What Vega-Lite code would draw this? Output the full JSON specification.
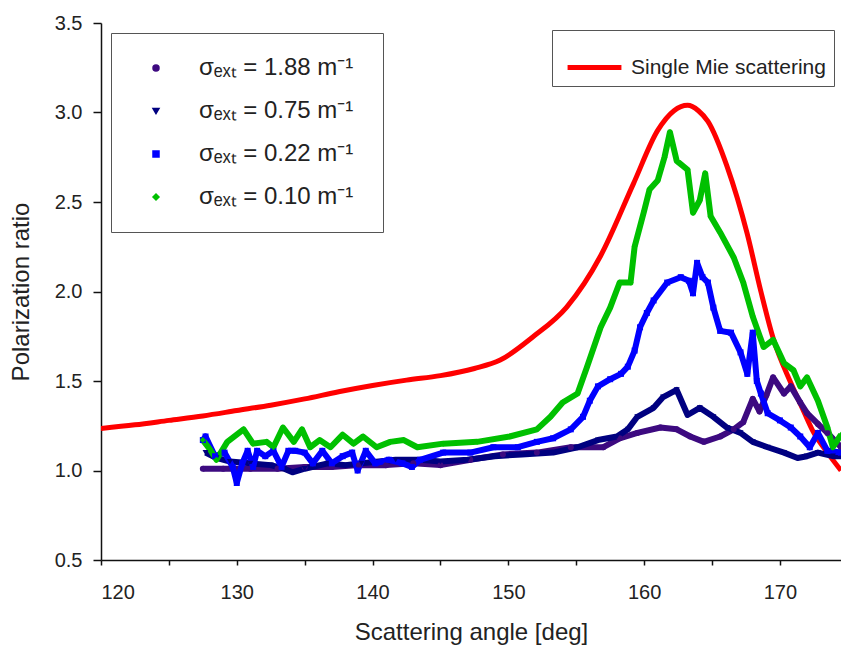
{
  "$schema": "https://vega.github.io/schema/vega-lite/v6.json",
  "width": 740,
  "height": 537,
  "autosize": {"type": "none"},
  "padding": {"left": 101, "top": 23, "right": 0, "bottom": 88},
  "background": "white",
  "config": {"font": "Liberation Sans", "view": {"stroke": null}},
  "datasets": {
    "mie": [
      {"a":120,"v":1.235},{"a":122.5,"v":1.255},{"a":125,"v":1.28},{"a":127.5,"v":1.305},{"a":130,"v":1.335},
      {"a":132.5,"v":1.365},{"a":135,"v":1.40},{"a":137.5,"v":1.44},{"a":140,"v":1.475},{"a":142.5,"v":1.505},
      {"a":145,"v":1.53},{"a":147.5,"v":1.57},{"a":149.4,"v":1.617},{"a":151.8,"v":1.746},{"a":154.3,"v":1.913},
      {"a":156.8,"v":2.20},{"a":159.2,"v":2.60},{"a":161.0,"v":2.90},{"a":162.2,"v":3.01},{"a":163.2,"v":3.04},
      {"a":164.0,"v":3.01},{"a":164.7,"v":2.95},{"a":166.1,"v":2.70},{"a":167.6,"v":2.32},{"a":168.6,"v":2.00},
      {"a":169.5,"v":1.74},{"a":170.8,"v":1.49},{"a":171.7,"v":1.34},{"a":172.5,"v":1.21},{"a":173.5,"v":1.10},
      {"a":174.5,"v":1.00}
    ],
    "meas": [
      {"s":"P","a":127.5,"v":1.01},{"s":"P","a":129,"v":1.01},{"s":"P","a":131,"v":1.01},{"s":"P","a":133,"v":1.01},
      {"s":"P","a":135,"v":1.02},{"s":"P","a":137,"v":1.02},{"s":"P","a":139,"v":1.03},{"s":"P","a":141,"v":1.03},
      {"s":"P","a":143,"v":1.04},{"s":"P","a":145,"v":1.03},{"s":"P","a":147.2,"v":1.06},{"s":"P","a":149.6,"v":1.09},
      {"s":"P","a":152.1,"v":1.10},{"s":"P","a":154.6,"v":1.13},{"s":"P","a":157.0,"v":1.13},{"s":"P","a":158.2,"v":1.18},
      {"s":"P","a":159.5,"v":1.21},{"s":"P","a":161.2,"v":1.24},{"s":"P","a":162.4,"v":1.23},{"s":"P","a":163.4,"v":1.19},
      {"s":"P","a":164.4,"v":1.16},{"s":"P","a":165.6,"v":1.19},{"s":"P","a":166.6,"v":1.23},{"s":"P","a":167.3,"v":1.27},
      {"s":"P","a":168.0,"v":1.40},{"s":"P","a":168.5,"v":1.33},{"s":"P","a":169.0,"v":1.42},{"s":"P","a":169.5,"v":1.52},
      {"s":"P","a":170.3,"v":1.43},{"s":"P","a":170.8,"v":1.47},{"s":"P","a":171.5,"v":1.38},{"s":"P","a":172.0,"v":1.32},
      {"s":"P","a":172.8,"v":1.26},{"s":"P","a":173.5,"v":1.21},{"s":"P","a":174.5,"v":1.13},

      {"s":"N","a":127.7,"v":1.10},{"s":"N","a":128.5,"v":1.07},{"s":"N","a":129.5,"v":1.05},{"s":"N","a":131,"v":1.04},
      {"s":"N","a":132.5,"v":1.03},{"s":"N","a":133.5,"v":1.01},{"s":"N","a":134.1,"v":0.99},{"s":"N","a":135,"v":1.01},
      {"s":"N","a":136.7,"v":1.04},{"s":"N","a":138,"v":1.03},{"s":"N","a":139.2,"v":1.04},{"s":"N","a":141.7,"v":1.06},
      {"s":"N","a":143.5,"v":1.06},{"s":"N","a":145,"v":1.05},{"s":"N","a":147,"v":1.06},{"s":"N","a":149,"v":1.08},
      {"s":"N","a":151,"v":1.09},{"s":"N","a":153.3,"v":1.10},{"s":"N","a":155.1,"v":1.13},{"s":"N","a":156.6,"v":1.17},
      {"s":"N","a":158.0,"v":1.19},{"s":"N","a":158.8,"v":1.23},{"s":"N","a":159.5,"v":1.30},{"s":"N","a":160.7,"v":1.35},
      {"s":"N","a":161.4,"v":1.41},{"s":"N","a":162.4,"v":1.45},{"s":"N","a":163.2,"v":1.31},{"s":"N","a":164.1,"v":1.35},
      {"s":"N","a":165.1,"v":1.30},{"s":"N","a":166.1,"v":1.24},{"s":"N","a":167.1,"v":1.21},{"s":"N","a":168.0,"v":1.16},
      {"s":"N","a":169.1,"v":1.13},{"s":"N","a":170.3,"v":1.10},{"s":"N","a":171.3,"v":1.07},{"s":"N","a":172.0,"v":1.08},
      {"s":"N","a":172.8,"v":1.10},{"s":"N","a":173.9,"v":1.08},{"s":"N","a":174.5,"v":1.08},

      {"s":"B","a":127.5,"v":1.17},{"s":"B","a":127.7,"v":1.19},{"s":"B","a":128.4,"v":1.08},{"s":"B","a":129.1,"v":1.10},
      {"s":"B","a":129.7,"v":1.02},{"s":"B","a":130.0,"v":0.93},{"s":"B","a":130.4,"v":1.04},{"s":"B","a":130.8,"v":1.11},
      {"s":"B","a":131.2,"v":1.02},{"s":"B","a":131.5,"v":1.11},{"s":"B","a":132.1,"v":1.08},{"s":"B","a":132.7,"v":1.11},
      {"s":"B","a":133.3,"v":1.02},{"s":"B","a":133.8,"v":1.11},{"s":"B","a":134.3,"v":1.11},{"s":"B","a":135.0,"v":1.10},
      {"s":"B","a":135.6,"v":1.04},{"s":"B","a":136.3,"v":1.11},{"s":"B","a":137.0,"v":1.04},{"s":"B","a":137.8,"v":1.08},
      {"s":"B","a":138.5,"v":1.10},{"s":"B","a":138.9,"v":1.00},{"s":"B","a":139.5,"v":1.11},{"s":"B","a":140.2,"v":1.04},
      {"s":"B","a":141.2,"v":1.06},{"s":"B","a":142.2,"v":1.04},{"s":"B","a":142.9,"v":1.02},{"s":"B","a":143.5,"v":1.06},
      {"s":"B","a":145.2,"v":1.10},{"s":"B","a":147.2,"v":1.10},{"s":"B","a":148.9,"v":1.13},{"s":"B","a":150.7,"v":1.13},
      {"s":"B","a":152.1,"v":1.16},{"s":"B","a":153.3,"v":1.18},{"s":"B","a":154.6,"v":1.23},{"s":"B","a":155.5,"v":1.30},
      {"s":"B","a":156.0,"v":1.39},{"s":"B","a":156.6,"v":1.47},{"s":"B","a":157.5,"v":1.51},{"s":"B","a":158.3,"v":1.54},
      {"s":"B","a":158.8,"v":1.58},{"s":"B","a":159.3,"v":1.67},{"s":"B","a":159.7,"v":1.80},{"s":"B","a":160.2,"v":1.88},
      {"s":"B","a":160.7,"v":1.95},{"s":"B","a":161.7,"v":2.05},{"s":"B","a":162.7,"v":2.08},{"s":"B","a":163.3,"v":2.06},
      {"s":"B","a":163.6,"v":1.99},{"s":"B","a":163.9,"v":2.16},{"s":"B","a":164.3,"v":2.08},{"s":"B","a":164.7,"v":2.05},
      {"s":"B","a":165.1,"v":1.91},{"s":"B","a":165.6,"v":1.78},{"s":"B","a":166.4,"v":1.77},{"s":"B","a":167.1,"v":1.66},
      {"s":"B","a":167.6,"v":1.54},{"s":"B","a":168.0,"v":1.77},{"s":"B","a":168.3,"v":1.50},{"s":"B","a":168.6,"v":1.43},
      {"s":"B","a":169.1,"v":1.32},{"s":"B","a":170.0,"v":1.28},{"s":"B","a":170.8,"v":1.24},{"s":"B","a":171.5,"v":1.19},
      {"s":"B","a":172.2,"v":1.13},{"s":"B","a":172.8,"v":1.21},{"s":"B","a":173.5,"v":1.11},{"s":"B","a":174.5,"v":1.10},

      {"s":"G","a":127.5,"v":1.17},{"s":"G","a":128.0,"v":1.12},{"s":"G","a":128.5,"v":1.06},{"s":"G","a":129.3,"v":1.16},
      {"s":"G","a":130.5,"v":1.23},{"s":"G","a":131.2,"v":1.15},{"s":"G","a":132.2,"v":1.16},{"s":"G","a":132.7,"v":1.13},
      {"s":"G","a":133.4,"v":1.24},{"s":"G","a":134.2,"v":1.16},{"s":"G","a":134.8,"v":1.23},{"s":"G","a":135.4,"v":1.13},
      {"s":"G","a":136.1,"v":1.17},{"s":"G","a":136.9,"v":1.13},{"s":"G","a":137.8,"v":1.20},{"s":"G","a":138.6,"v":1.15},
      {"s":"G","a":139.3,"v":1.19},{"s":"G","a":140.3,"v":1.13},{"s":"G","a":141.3,"v":1.16},{"s":"G","a":142.3,"v":1.17},
      {"s":"G","a":143.3,"v":1.13},{"s":"G","a":145.2,"v":1.15},{"s":"G","a":147.7,"v":1.16},{"s":"G","a":150.1,"v":1.19},
      {"s":"G","a":152.1,"v":1.23},{"s":"G","a":153.1,"v":1.30},{"s":"G","a":154.0,"v":1.38},{"s":"G","a":155.1,"v":1.43},
      {"s":"G","a":155.8,"v":1.58},{"s":"G","a":156.8,"v":1.80},{"s":"G","a":157.5,"v":1.91},{"s":"G","a":158.2,"v":2.05},
      {"s":"G","a":159.0,"v":2.05},{"s":"G","a":159.3,"v":2.25},{"s":"G","a":160.0,"v":2.45},{"s":"G","a":160.4,"v":2.57},
      {"s":"G","a":161.0,"v":2.62},{"s":"G","a":161.5,"v":2.75},{"s":"G","a":161.9,"v":2.89},{"s":"G","a":162.4,"v":2.73},
      {"s":"G","a":163.2,"v":2.68},{"s":"G","a":163.6,"v":2.44},{"s":"G","a":164.1,"v":2.51},{"s":"G","a":164.5,"v":2.66},
      {"s":"G","a":164.9,"v":2.42},{"s":"G","a":165.6,"v":2.33},{"s":"G","a":166.6,"v":2.19},{"s":"G","a":167.3,"v":2.05},
      {"s":"G","a":168.0,"v":1.86},{"s":"G","a":168.8,"v":1.69},{"s":"G","a":169.5,"v":1.73},{"s":"G","a":170.3,"v":1.60},
      {"s":"G","a":171.0,"v":1.56},{"s":"G","a":171.5,"v":1.47},{"s":"G","a":172.0,"v":1.52},{"s":"G","a":172.8,"v":1.39},
      {"s":"G","a":173.5,"v":1.24},{"s":"G","a":173.9,"v":1.13},{"s":"G","a":174.5,"v":1.20}
    ]
  },
  "encoding": {
    "x": {
      "field": "a", "type": "quantitative",
      "scale": {"domain": [120, 174.5], "nice": false, "zero": false},
      "axis": {
        "title": "Scattering angle [deg]",
        "values": [120,125,130,135,140,145,150,155,160,165,170],
        "labelExpr": "datum.value % 10 === 0 ? datum.label : ''",
        "format": "d", "grid": false,
        "tickSize": 5, "tickWidth": 1.5, "tickColor": "#111",
        "domainWidth": 1.5, "domainColor": "#111",
        "labelFontSize": 20, "labelColor": "#222", "labelPadding": 17,
        "titleFontSize": 24, "titleFontWeight": "normal", "titleColor": "#222", "titlePadding": 18
      }
    },
    "y": {
      "field": "v", "type": "quantitative",
      "scale": {"domain": [0.5, 3.5], "nice": false, "zero": false},
      "axis": {
        "title": "Polarization ratio",
        "values": [0.5,1.0,1.5,2.0,2.5,3.0,3.5],
        "format": ".1f", "grid": false,
        "tickSize": 8, "tickWidth": 1.5, "tickColor": "#111",
        "domainWidth": 1.5, "domainColor": "#111",
        "labelFontSize": 20, "labelColor": "#222", "labelPadding": 11,
        "titleFontSize": 24, "titleFontWeight": "normal", "titleColor": "#222", "titlePadding": 21
      }
    }
  },
  "layer": [
    {
      "data": {"name": "mie"},
      "mark": {"type": "line", "strokeWidth": 5, "interpolate": "monotone", "clip": true},
      "encoding": {
        "color": {
          "datum": "Single Mie scattering", "type": "nominal",
          "scale": {"domain": ["Single Mie scattering"], "range": ["#ff0000"]},
          "legend": {
            "orient": "none", "legendX": 451, "legendY": 7, "title": null,
            "symbolType": "stroke", "symbolSize": 2900, "symbolStrokeWidth": 5, "symbolOffset": 5,
            "strokeColor": "#555", "fillColor": "white", "padding": 8,
            "labelOffset": 7, "labelFontSize": 21, "labelColor": "#222", "labelLimit": 400,
            "labelExpr": "datum.label + '\u00a0'"
          }
        }
      }
    },
    {
      "data": {"name": "meas"},
      "layer": [
        {
          "mark": {"type": "line", "strokeWidth": 6, "strokeJoin": "round", "clip": true},
          "encoding": {
            "color": {"field": "s", "type": "nominal"}
          }
        },
        {
          "mark": {"type": "point", "filled": true, "size": 36, "opacity": 1, "clip": true},
          "encoding": {
            "color": {"field": "s", "type": "nominal",
              "scale": {"domain": ["P","N","B","G"], "range": ["#3d0a80","#000080","#0000ff","#00c000"]},
              "legend": {
                "orient": "none", "legendX": 10, "legendY": 10, "title": null,
                "strokeColor": "#555", "fillColor": "white", "padding": 23,
                "symbolSize": 36, "symbolOffset": 10, "labelOffset": 31, "labelFontSize": 24, "labelColor": "#222",
                "rowPadding": 19, "labelLimit": 400,
                "labelExpr": "datum.label == 'P' ? 'σₑₓₜ = 1.88 m⁻¹' : datum.label == 'N' ? 'σₑₓₜ  = 0.75 m⁻¹' : datum.label == 'B' ? 'σₑₓₜ = 0.22 m⁻¹' : 'σₑₓₜ = 0.10 m⁻¹'"
              }
            },
            "shape": {"field": "s", "type": "nominal",
              "scale": {"domain": ["P","N","B","G"], "range": ["circle","triangle-down","square","diamond"]},
              "legend": {
                "orient": "none", "legendX": 10, "legendY": 10, "title": null,
                "strokeColor": "#555", "fillColor": "white", "padding": 23,
                "symbolSize": 36, "symbolOffset": 10, "labelOffset": 31, "labelFontSize": 24, "labelColor": "#222",
                "rowPadding": 19, "labelLimit": 400,
                "labelExpr": "datum.label == 'P' ? 'σₑₓₜ = 1.88 m⁻¹' : datum.label == 'N' ? 'σₑₓₜ  = 0.75 m⁻¹' : datum.label == 'B' ? 'σₑₓₜ = 0.22 m⁻¹' : 'σₑₓₜ = 0.10 m⁻¹'"
              }
            }
          }
        }
      ]
    },
    {
      "data": {"values": [{}]},
      "mark": {"type": "rule", "strokeWidth": 1.5, "color": "#111"},
      "encoding": {"y": {"datum": 3.5}, "x": null}
    }
  ],
  "resolve": {"scale": {"color": "independent", "shape": "independent"}}
}
